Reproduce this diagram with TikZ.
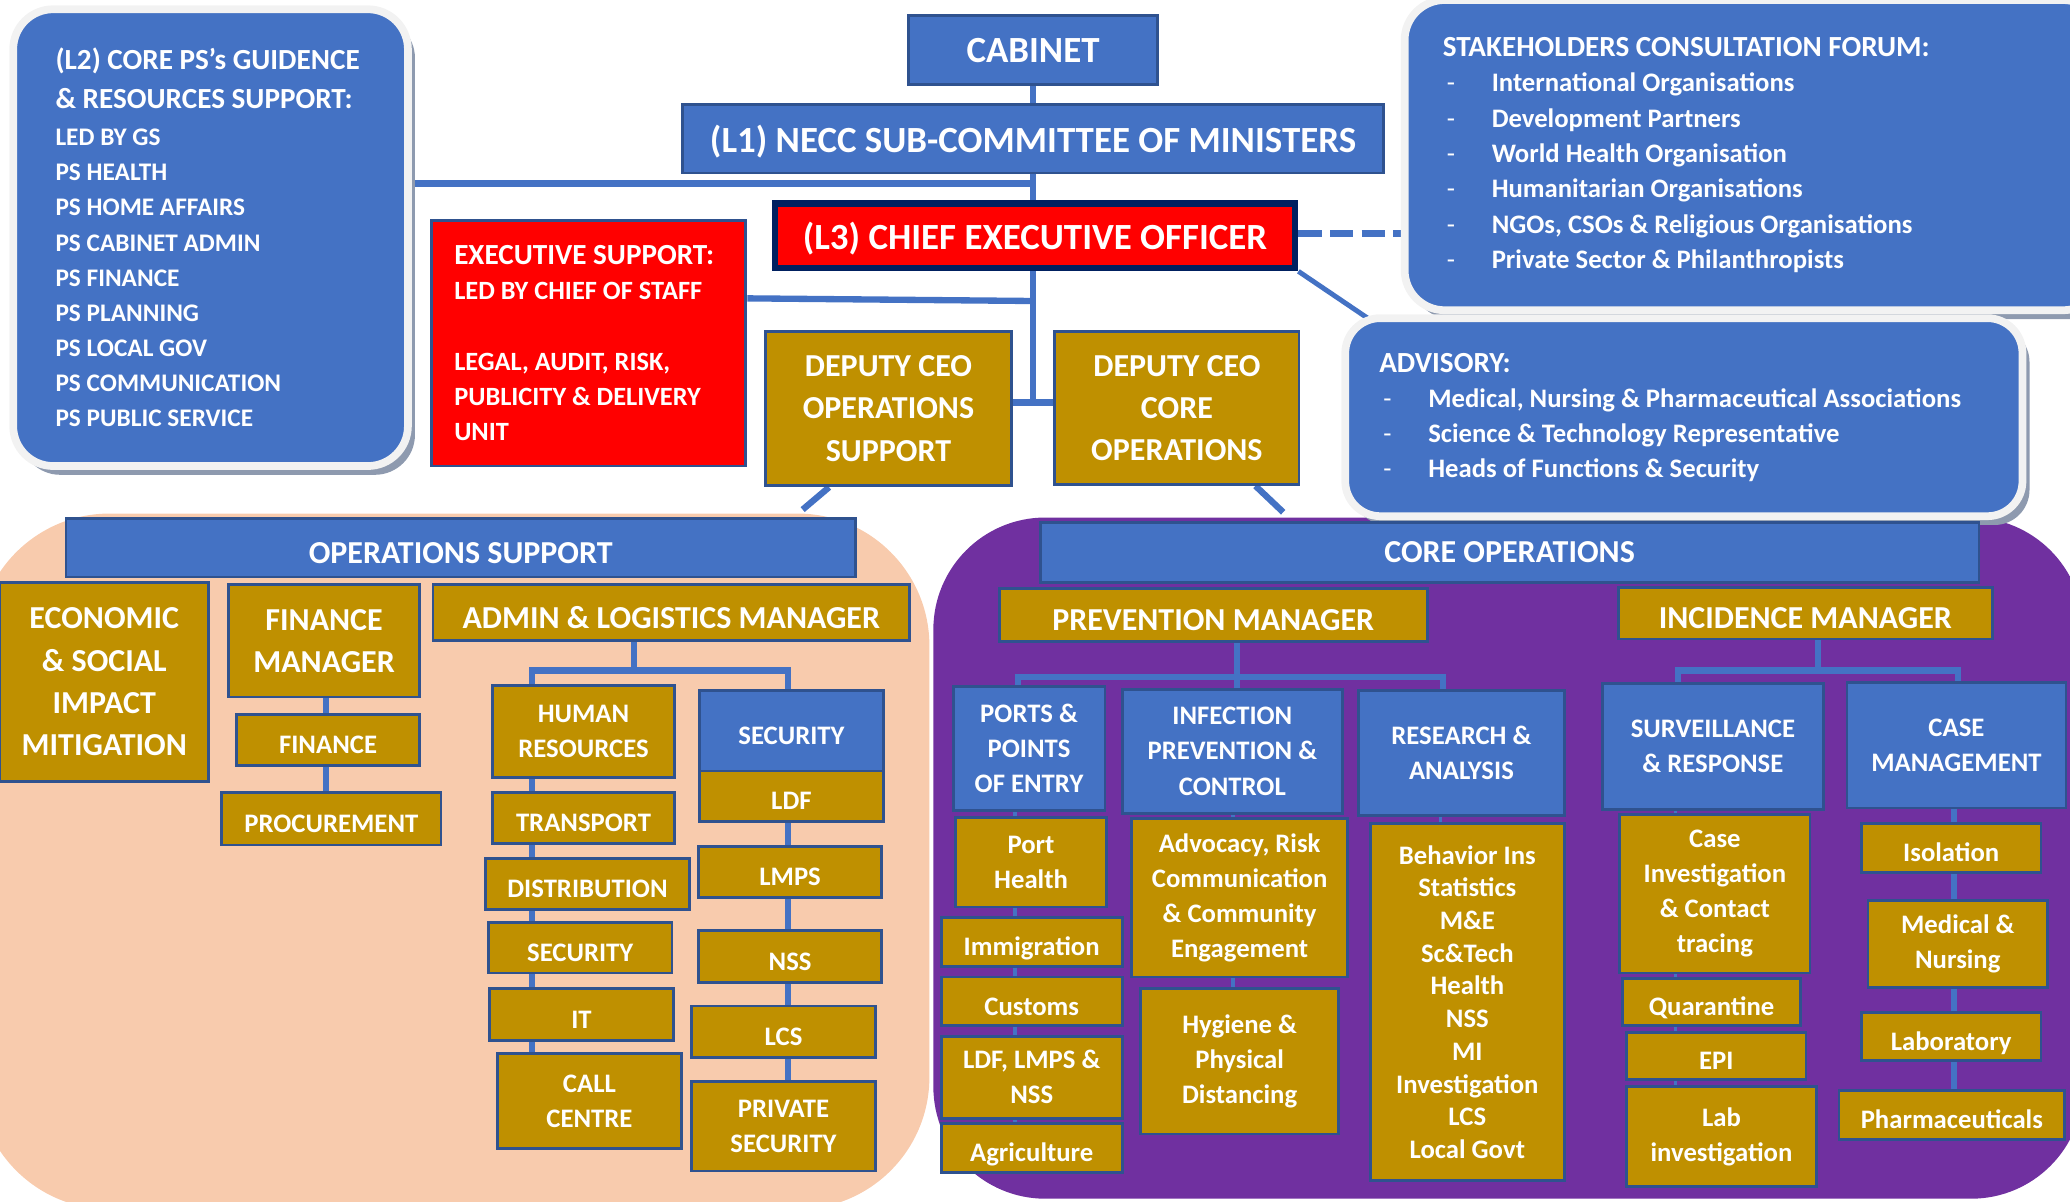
\documentclass[tikz,border=0pt]{standalone}
\usepackage{fontspec}
\setmainfont{Carlito}
\usetikzlibrary{calc,shadows}
\definecolor{tblue}{HTML}{4472C4}
\definecolor{bline}{HTML}{2F528F}
\definecolor{tgold}{HTML}{BF9000}
\definecolor{tred}{HTML}{FF0000}
\definecolor{navy}{HTML}{002060}
\definecolor{peach}{HTML}{F8CBAD}
\definecolor{tpurple}{HTML}{7030A0}
\definecolor{ringc}{HTML}{F2F2F2}
\definecolor{shadowc}{HTML}{8E9AAF}
\pgfdeclarelayer{bg}
\pgfdeclarelayer{edges}
\pgfsetlayers{bg,edges,main}
\def\unit{0.013202cm}
\long\def\ubox[#1](#2)(#3,#4,#5,#6)#7{\node[#1, minimum width={(#5-#3)*\unit}, minimum height={(#6-#4)*\unit}] (#2) at ({(#3+#5)/2},{(#4+#6)/2}) {#7};}
\def\itm#1{\mbox{\makebox[0.49cm][l]{\hspace{0.04cm}\mdseries -}#1}}

\begin{document}
\begin{tikzpicture}[x=0.013202cm, y=-0.013202cm,
	box/.style={draw=bline, line width=0.8pt, text=white, inner sep=0pt, align=center},
	bluebox/.style={box, fill=tblue},
	goldbox/.style={box, fill=tgold},
	redbox/.style={box, fill=tred},
	smalltxt/.style={font=\fontsize{7.6}{10}\selectfont\bfseries},
	headtxt/.style={font=\fontsize{9.1}{12}\selectfont\bfseries},
	bigtxt/.style={font=\fontsize{10.5}{13}\selectfont\bfseries},
	smallone/.style={smalltxt, text height=7.8pt, text depth=0pt},
	headone/.style={headtxt, text height=8.9pt, text depth=0pt},
	bigone/.style={bigtxt, text height=8pt, text depth=0pt},
	panel/.style={fill=tblue, draw=ringc, line width=2.2pt, rounded corners=0.4cm, text=white, inner sep=0pt, align=flush left, font=\bfseries,
		drop shadow={shadow xshift=2pt, shadow yshift=-2.5pt, fill=shadowc, opacity=1}},
	link/.style={draw=tblue, line width=1.8pt},
	thinlink/.style={draw=tblue, line width=1pt}]
			%%%%% START %%%%%
			\useasboundingbox (0,0) rectangle (1568,910);
			
			\begin{pgfonlayer}{bg}
			\fill[peach, rounded corners=1.32cm] (-17,389) rectangle (704,916);
			\fill[tpurple, rounded corners=1.12cm] (707,392) rectangle (1578,908);
			\end{pgfonlayer}
			
			% top of the chart
			\ubox[bluebox, bigtxt](cab)(688,12,877,64){CABINET}
			\ubox[bluebox, bigone](necc)(517,79,1048,131){(L1) NECC SUB-COMMITTEE OF MINISTERS}
			\ubox[redbox, bigone, draw=navy, line width=1.9pt](ceo)(587,154,981,203){(L3) CHIEF EXECUTIVE OFFICER}
			\ubox[goldbox, headtxt](depops)(580,251,766,368){DEPUTY CEO\\OPERATIONS\\SUPPORT}
			\ubox[goldbox, headtxt](depcore)(799,251,984,367){DEPUTY CEO\\CORE\\OPERATIONS}
			
			\ubox[panel, text width=3.1cm](l2)(10,7,309,353){{\fontsize{8.3}{10.9}\selectfont \mbox{(L2) CORE PS’s GUIDENCE}\\\mbox{\& RESOURCES SUPPORT:}\par}\fontsize{7.2}{10}\selectfont\vspace{0.6pt}LED BY GS\\PS HEALTH\\PS HOME AFFAIRS\\PS CABINET ADMIN\\PS FINANCE\\PS PLANNING\\PS LOCAL GOV\\PS COMMUNICATION\\PS PUBLIC SERVICE\par}
			\ubox[redbox, text width=2.69cm, align=flush left, font=\bfseries](exec)(327,167,565,353){{\fontsize{8.3}{10.4}\selectfont \mbox{EXECUTIVE SUPPORT:}\par}\fontsize{7.5}{10}\selectfont \mbox{LED BY CHIEF OF STAFF}\\[10pt]\mbox{LEGAL, AUDIT, RISK,}\\\mbox{PUBLICITY \& DELIVERY}\\UNIT\par}
			\ubox[panel, text width=6.22cm](stake)(1064,0,1593,235){{\fontsize{8.3}{10.7}\selectfont \mbox{STAKEHOLDERS CONSULTATION FORUM:}\par}\fontsize{7.6}{10.05}\selectfont\itm{International Organisations}\\\itm{Development Partners}\\\itm{World Health Organisation}\\\itm{Humanitarian Organisations}\\\itm{NGOs, CSOs \& Religious Organisations}\\\itm{Private Sector \& Philanthropists}\par}
			\ubox[panel, rounded corners=0.35cm, text width=6.09cm](adv)(1019,241,1532,391){{\fontsize{8.3}{10.4}\selectfont ADVISORY:\par}\fontsize{7.6}{9.95}\selectfont\itm{Medical, Nursing \& Pharmaceutical Associations}\\\itm{Science \& Technology Representative}\\\itm{Heads of Functions \& Security}\par}
			
			% operations support
			\ubox[bluebox, headone](opshd)(50,393,648,437){OPERATIONS SUPPORT}
			\ubox[goldbox, headtxt](econ)(0,441,158,592){ECONOMIC\\\& SOCIAL\\IMPACT\\MITIGATION}
			\ubox[goldbox, headtxt](finm)(173,443,318,528){FINANCE\\MANAGER}
			\ubox[goldbox, smallone](fin)(179,541,318,580){FINANCE}
			\ubox[goldbox, smallone](proc)(168,600,334,640){PROCUREMENT}
			\ubox[goldbox, headone](alm)(328,443,689,485){ADMIN \& LOGISTICS MANAGER}
			\ubox[goldbox, smalltxt](hr)(373,519,511,589){HUMAN\\RESOURCES}
			\ubox[goldbox, smallone](trans)(373,600,511,639){TRANSPORT}
			\ubox[goldbox, smallone](dist)(368,650,522,689){DISTRIBUTION}
			\ubox[goldbox, smallone](secg)(370,699,509,737){SECURITY}
			\ubox[goldbox, smallone](it)(371,749,510,788){IT}
			\ubox[goldbox, smalltxt](callc)(377,798,516,870){CALL\\CENTRE}
			\ubox[bluebox, smallone](secb)(530,523,669,584){SECURITY}
			\ubox[goldbox, smallone](ldf)(530,584,669,622){LDF}
			\ubox[goldbox, smallone](lmps)(529,641,668,680){LMPS}
			\ubox[goldbox, smallone](nss)(529,705,668,744){NSS}
			\ubox[goldbox, smallone](lcs)(524,762,663,801){LCS}
			\ubox[goldbox, smalltxt](privs)(524,819,663,887){PRIVATE\\SECURITY}
			
			% core operations
			\ubox[bluebox, headtxt](corehd)(788,396,1499,441){CORE OPERATIONS}
			\ubox[goldbox, headone](prev)(757,446,1081,486){PREVENTION MANAGER}
			\ubox[goldbox, headone](inc)(1226,445,1509,484){INCIDENCE MANAGER}
			\ubox[bluebox, smalltxt](ports)(722,520,837,614){PORTS \&\\POINTS\\OF ENTRY}
			\ubox[bluebox, smalltxt](ipc)(850,522,1017,616){INFECTION\\PREVENTION \&\\CONTROL}
			\ubox[bluebox, smalltxt](res)(1029,523,1185,618){RESEARCH \&\\ANALYSIS}
			\ubox[bluebox, smalltxt](surv)(1214,518,1381,613){SURVEILLANCE\\\& RESPONSE}
			\ubox[bluebox, smalltxt](casem)(1399,517,1565,612){CASE\\MANAGEMENT}
			\ubox[goldbox, smalltxt](porth)(724,619,838,687){Port\\Health}
			\ubox[goldbox, smallone](immi)(713,695,850,732){Immigration}
			\ubox[goldbox, smallone](cust)(713,740,850,777){Customs}
			\ubox[goldbox, smalltxt](ldfl)(713,785,850,847){LDF, LMPS \&\\NSS}
			\ubox[goldbox, smallone](agri)(713,851,850,888){Agriculture}
			\ubox[goldbox, smalltxt](advoc)(857,620,1021,740){Advocacy, Risk\\Communication\\\& Community\\Engagement}
			\ubox[goldbox, smalltxt](hyg)(864,749,1014,859){Hygiene \&\\Physical\\Distancing}
			\ubox[goldbox, font=\fontsize{7.6}{9.3}\selectfont\bfseries](behav)(1038,624,1185,894){Behavior Ins\\Statistics\\M\&E\\Sc\&Tech\\Health\\NSS\\MI\\Investigation\\LCS\\Local Govt}
			\ubox[goldbox, smalltxt](caseinv)(1227,617,1371,737){Case\\Investigation\\\& Contact\\tracing}
			\ubox[goldbox, smallone](quar)(1229,741,1364,777){Quarantine}
			\ubox[goldbox, smallone](epi)(1232,782,1368,818){EPI}
			\ubox[goldbox, smalltxt](lab)(1232,823,1376,899){Lab\\investigation}
			\ubox[goldbox, smallone](iso)(1410,624,1546,661){Isolation}
			\ubox[goldbox, smalltxt](med)(1415,682,1551,748){Medical \&\\Nursing}
			\ubox[goldbox, smallone](labo)(1410,767,1546,803){Laboratory}
			\ubox[goldbox, smallone](pharm)(1393,826,1564,863){Pharmaceuticals}
			
			\coordinate (opsbg) at (608,386);
			\coordinate (corebg) at (972,388);
			\coordinate (almbus) at (480,508);
			\coordinate (prevbus) at (937,513);
			\coordinate (incbus) at (1377,508);
			
			\begin{pgfonlayer}{edges}
			\draw[link] (cab) -- (cab |- 0,305);
			\draw[link] (depops.east |- 0,305) -- (depcore.west |- 0,305);
			\draw[link] (l2.east |- 0,139) -- (cab |- 0,139);
			\draw[link] (exec.east |- 0,226) -- (cab |- 0,228);
			\draw[link, line width=2.1pt, dash pattern=on 6.6pt off 2.4pt] (ceo.east |- 0,177) -- (stake.west |- 0,177);
			\draw[link, line width=1.4pt] (ceo.south east) -- ($(adv.north west)+(23,5)$);
			\draw[link] (628,0 |- depops.south) -- (opsbg);
			\draw[link] (951,0 |- depcore.south) -- (corebg);
			
			\draw[link] (alm.south -| almbus) -- (almbus);
			\draw[link] (403,0 |- callc) -- (403,0 |- almbus) -- (597,0 |- almbus) -- (597,0 |- privs);
			\draw[link] (247,0 |- finm) -- (247,0 |- proc);
			
			\draw[link] (prev.south -| prevbus) -- (prevbus);
			\draw[link] (771,0 |- ports.north) -- (771,0 |- prevbus) -- (1093,0 |- prevbus) -- (1093,0 |- res.north);
			\draw[link] (prevbus) -- (prevbus |- ipc.north);
			\draw[thinlink] (769,0 |- ports) -- (769,0 |- agri);
			\draw[thinlink] (934,0 |- ipc) -- (934,0 |- hyg);
			\draw[thinlink] (1091,0 |- res) -- (1091,0 |- behav);
			\draw[link] (inc.south -| incbus) -- (incbus);
			\draw[link] (1271,0 |- surv.north) -- (1271,0 |- incbus) -- (1483,0 |- incbus) -- (1483,0 |- casem.north);
			\draw[thinlink] (1269,0 |- surv) -- (1269,0 |- lab);
			\draw[link] (1480,0 |- casem) -- (1480,0 |- pharm);
			\end{pgfonlayer}
			%%%%% END %%%%%
\end{tikzpicture}
\end{document}
